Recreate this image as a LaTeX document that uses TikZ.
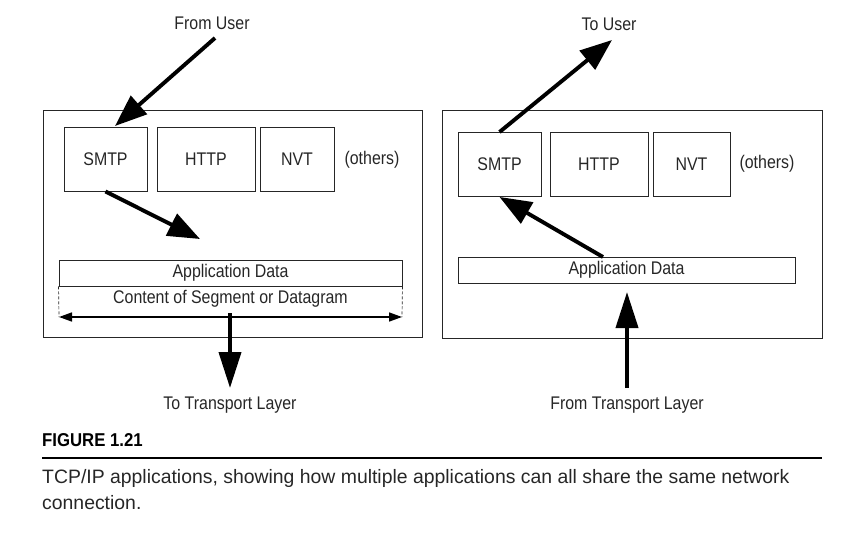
\documentclass[tikz,border=0pt]{standalone}
\usepackage{fontspec}
\setmainfont{Liberation Sans}[FakeStretch=0.87]
\newfontfamily\capfont{Liberation Sans}
\newfontfamily\figfont{Liberation Sans}[FakeStretch=0.9]
\usetikzlibrary{arrows.meta}
\begin{document}
\begin{tikzpicture}[x=1pt,y=-1pt,
        appbox/.style={draw=black!85,line width=0.9pt,minimum height=64pt,inner sep=0pt},
        databox/.style={draw=black!85,line width=0.9pt,minimum height=26pt,inner sep=0pt},
        bigarrow/.style={line width=3.9pt,-{Triangle[length=32pt,width=24pt]}},
        lbl/.style={text=black!85,font=\fontsize{18.3}{20}\selectfont}]

    \useasboundingbox (0,0) rectangle (864,533);

    % left side: sending
        \node[draw=black!85,line width=0.9pt,minimum width=379pt,minimum height=227pt] (frameL) at (232.5,223.5) {};
        \node[appbox,minimum width=83pt,lbl] (smtpL) at (105.5,159) {SMTP};
        \node[appbox,minimum width=98pt,lbl] (httpL) at (206,159) {HTTP};
        \node[appbox,minimum width=74pt,lbl] (nvtL) at (297,159) {NVT};
        \node[lbl] (othersL) at (372,160) {(others)};
        \node[databox,minimum width=343pt,lbl] (dataL) at (230.5,273) {Application Data};
        \node[lbl] (contentL) at (230.5,299) {Content of Segment or Datagram};
        \coordinate (segL) at (59,317); \coordinate (segR) at (402,317);
        \draw[black!85,dash pattern=on 3pt off 2pt,line width=0.7pt] (dataL.south west) -- (segL);
        \draw[black!85,dash pattern=on 3pt off 2pt,line width=0.7pt] (dataL.south east) -- (segR);
        \draw[line width=1.6pt,{Triangle[length=13pt,width=9pt]}-{Triangle[length=13pt,width=9pt]}] (segL) -- (segR);
        \node[lbl] (fromuser) at (212,23) {From User};
        \coordinate (userL) at (215,38); \coordinate (inL) at (115,126);
        \draw[bigarrow] (userL) -- (inL);
        \coordinate (downL) at (200,239);
        \draw[bigarrow] (smtpL.south) -- (downL);
        \coordinate (outL) at (230,313); \coordinate (tipL) at (230,388);
        \draw[bigarrow,-{Triangle[length=36pt,width=22pt]}] (outL) -- (tipL);
        \node[lbl] (totrans) at (230,405) {To Transport Layer};

    % right side: receiving
        \node[draw=black!85,line width=0.9pt,minimum width=380pt,minimum height=228pt] (frameR) at (632,224) {};
        \node[appbox,minimum width=83pt,lbl] (smtpR) at (499.5,164.5) {SMTP};
        \node[appbox,minimum width=98pt,lbl] (httpR) at (599,164.5) {HTTP};
        \node[appbox,minimum width=77pt,lbl] (nvtR) at (691.5,164.5) {NVT};
        \node[lbl] (othersR) at (767,164) {(others)};
        \node[databox,minimum width=337pt,lbl] (dataR) at (626.5,270) {Application Data};
        \node[lbl] (touser) at (609,24) {To User};
        \coordinate (userR) at (612,40);
        \draw[bigarrow] (smtpR.north) -- (userR);
        \coordinate (upR) at (603,257);
        \draw[bigarrow] (upR) -- (smtpR.south);
        \coordinate (inR) at (627,388); \coordinate (tipR) at (627,292);
        \draw[bigarrow,-{Triangle[length=36pt,width=22pt]}] (inR) -- (tipR);
        \node[lbl] (fromtrans) at (627,405) {From Transport Layer};

    % caption
        \node[anchor=west,inner sep=0pt,font=\figfont\bfseries\fontsize{18.6}{20}\selectfont] (fig) at (42,440) {FIGURE 1.21};
        \coordinate (ruleL) at (42,458); \coordinate (ruleR) at (822,458);
        \draw[line width=1.6pt] (ruleL) -- (ruleR);
        \node[anchor=west,inner sep=0pt,text=black!85,font=\capfont\fontsize{19.4}{26}\selectfont,align=left] (cap) at (42,490)
            {TCP/IP applications, showing how multiple applications can all share the same network\\connection.};

    \end{tikzpicture}
\end{document}
